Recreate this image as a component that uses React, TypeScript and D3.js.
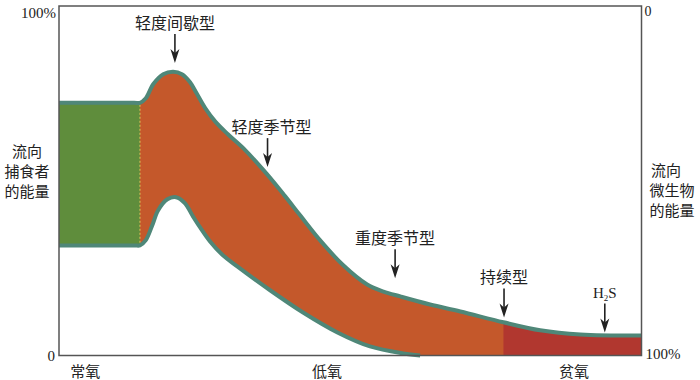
import React from 'react';
import * as d3 from 'd3';

// Oxygen gradient (0 = normoxic ... 100 = anoxic), energy share (%)
const upperX = [0, 12.9, 13.9, 14.9, 16.2, 17.9, 19.6, 21.1, 22.5, 23.7, 25.1, 26.8, 29.0, 32.0, 35.7, 38.8, 41.4, 44.8, 48.8, 52.9, 55.7, 58.6, 63.7, 68.9, 76.3, 82.6, 89.5, 100];
const upperY = [72.3, 72.3, 72.3, 73.6, 77.7, 80.5, 81.2, 80.5, 78.2, 74.8, 70.8, 67.0, 63.3, 58.7, 51.9, 45.6, 40.1, 33.0, 25.8, 20.3, 18.3, 16.9, 14.6, 12.6, 9.5, 7.2, 6.0, 5.7];
const lowerX = [0, 12.9, 13.9, 14.9, 16.0, 17.0, 18.6, 20.1, 21.6, 23.0, 24.2, 25.9, 28.0, 30.6, 36.3, 41.9, 47.8, 53.4, 59.1, 62.0];
const lowerY = [31.5, 31.5, 31.5, 33.0, 37.2, 41.5, 44.7, 45.3, 43.6, 39.8, 36.7, 32.7, 28.9, 25.5, 18.6, 12.3, 6.6, 2.6, 0.6, 0];
const normoxicEnd = 13.9;
const sulfideStart = 76.3;

const zoneLabels = ['常氧', '低氧', '贫氧'];
const zoneX = [4.5, 46.0, 88.4];

const typeLabels = ['轻度间歇型', '轻度季节型', '重度季节型', '持续型', 'H2S'];
const typeX = [19.9, 35.8, 57.7, 76.4, 93.7];
const typeTipY = [83.7, 53.9, 22.1, 10.9, 6.6];

const leftLabel = ['流向', '捕食者', '的能量'];
const rightLabel = ['流向', '微生物', '的能量'];

const W = 700, H = 380;
const L = 59, R = 641.5, T = 6, B = 355.5;

const C_GREEN = '#5f8d3c';
const C_ORANGE = '#c4582b';
const C_RED = '#b1372f';
const C_TEAL = '#4f8778';
const C_AXIS = '#555';

const CJK = '"Noto Sans CJK SC", "Noto Sans", sans-serif';
const SERIF = '"Liberation Serif", "DejaVu Serif", serif';

export default function App() {
  const x = d3.scaleLinear().domain([0, 100]).range([L, R]);
  const y = d3.scaleLinear().domain([0, 100]).range([B, T]);

  const upper = upperX.map((v, i) => [v, upperY[i]] as [number, number]);
  const lower = lowerX.map((v, i) => [v, lowerY[i]] as [number, number]);

  const curve = d3.curveCatmullRom.alpha(0.5);
  const line = d3.line<[number, number]>().x(d => x(d[0])).y(d => y(d[1])).curve(curve);
  const areaBelow = d3.area<[number, number]>().x(d => x(d[0])).y0(y(0)).y1(d => y(d[1])).curve(curve);

  const arrowLen = 29;

  return (
    <svg width={W} height={H} style={{ position: 'absolute', left: 0, top: 0, background: '#fff' }}>
      <defs>
        <clipPath id="belowUpper">
          <path d={areaBelow(upper) || ''} />
        </clipPath>
      </defs>
      {/* orange hypoxic band */}
      <path d={areaBelow(upper) || ''} fill={C_ORANGE} />
      {/* green normoxic block */}
      <rect x={x(0)} y={y(upperY[0])} width={x(normoxicEnd) - x(0)} height={y(0) - y(upperY[0])} fill={C_GREEN} />
      {/* dark red sulfidic zone */}
      <rect x={x(sulfideStart)} y={y(100)} width={x(100) - x(sulfideStart)} height={y(0) - y(100)} fill={C_RED} clipPath="url(#belowUpper)" />
      {/* white under lower curve */}
      <path d={areaBelow(lower) || ''} fill="#fff" />
      {/* dotted divider */}
      <line x1={x(normoxicEnd)} x2={x(normoxicEnd)} y1={y(upperY[0]) + 2} y2={y(lowerY[0]) - 2} stroke="#d9c35a" strokeWidth={1} strokeDasharray="2,2" />
      {/* teal outlines */}
      <path d={line(upper) || ''} fill="none" stroke={C_TEAL} strokeWidth={4} strokeLinejoin="round" />
      <path d={line(lower) || ''} fill="none" stroke={C_TEAL} strokeWidth={4} strokeLinejoin="round" />
      {/* frame */}
      <rect x={L} y={T} width={R - L} height={B - T} fill="none" stroke={C_AXIS} strokeWidth={1.5} />

      {/* axis numbers */}
      <text x={L - 3} y={18} textAnchor="end" fontFamily={SERIF} fontSize={15} fill="#222">100%</text>
      <text x={L - 4} y={361} textAnchor="end" fontFamily={SERIF} fontSize={15} fill="#222">0</text>
      <text x={R + 3} y={16} fontFamily={SERIF} fontSize={14} fill="#222">0</text>
      <text x={R + 4} y={359} fontFamily={SERIF} fontSize={15} fill="#222">100%</text>

      {/* zone labels */}
      {zoneLabels.map((t, i) => (
        <text key={t} x={x(zoneX[i])} y={377} textAnchor="middle" fontFamily={CJK} fontSize={15} fill="#222">{t}</text>
      ))}

      {/* side labels */}
      <text y={157} textAnchor="middle" fontFamily={CJK} fontSize={15} fill="#222">
        {leftLabel.map((t, i) => (
          <tspan key={'l' + i} x={27} dy={i === 0 ? 0 : 20}>{t}</tspan>
        ))}
      </text>
      <text y={176} textAnchor="middle" fontFamily={CJK} fontSize={15} fill="#222">
        {rightLabel.map((t, i) => (
          <tspan key={'r' + i} x={i === 0 ? 666 : 672} dy={i === 0 ? 0 : 20}>{t}</tspan>
        ))}
      </text>

      {/* type arrows and labels */}
      {typeLabels.map((t, i) => {
        const ax = x(typeX[i]);
        const tip = y(typeTipY[i]);
        const top = tip - arrowLen;
        return (
          <g key={t}>
            <line x1={ax} x2={ax} y1={top} y2={tip - 9} stroke="#222" strokeWidth={1.6} />
            <path d={`M${ax},${tip} L${ax - 4.5},${tip - 14} L${ax},${tip - 10} L${ax + 4.5},${tip - 14} Z`} fill="#222" />
            {t === 'H2S' ? (
              <text x={ax} y={top - 5} textAnchor="middle" fontFamily={SERIF} fontSize={15} fill="#222">
                H<tspan fontSize={9} dy={3}>2</tspan><tspan dy={-3}>S</tspan>
              </text>
            ) : (
              <text x={ax + (i === 1 ? 4 : 0)} y={top - 5} textAnchor="middle" fontFamily={CJK} fontSize={16} fill="#222">{t}</text>
            )}
          </g>
        );
      })}
    </svg>
  );
}
